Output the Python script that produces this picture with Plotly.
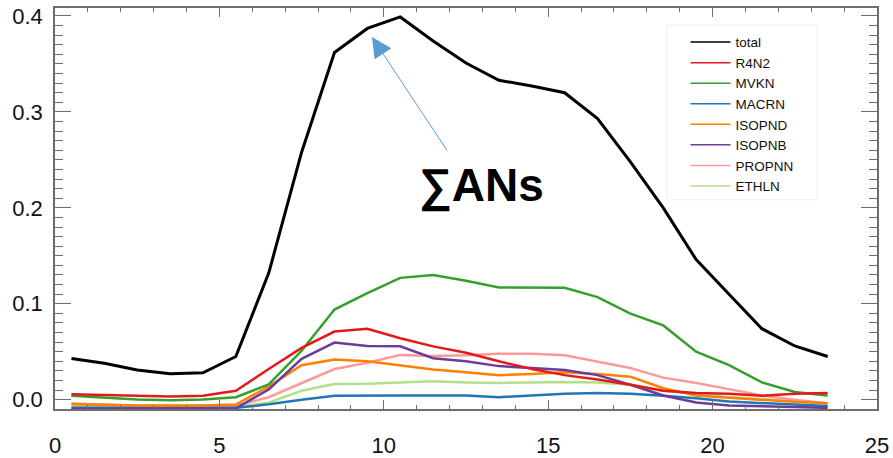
import plotly.graph_objects as go

hours = [0.5, 1.5, 2.5, 3.5, 4.5, 5.5, 6.5, 7.5, 8.5, 9.5, 10.5, 11.5,
         12.5, 13.5, 14.5, 15.5, 16.5, 17.5, 18.5, 19.5, 20.5, 21.5, 22.5, 23.5]

total = [0.043, 0.038, 0.031, 0.027, 0.028, 0.045, 0.132, 0.258, 0.362, 0.387, 0.399, 0.374,
         0.351, 0.333, 0.327, 0.320, 0.293, 0.248, 0.200, 0.146, 0.110, 0.074, 0.056, 0.045]
r4n2 = [0.0058, 0.0050, 0.0038, 0.0033, 0.0040, 0.0093, 0.032, 0.054, 0.071, 0.074, 0.064, 0.0556,
        0.049, 0.040, 0.032, 0.0256, 0.021, 0.0156, 0.0093, 0.007, 0.0063, 0.004, 0.0063, 0.007]
mvkn = [0.004, 0.002, 0.0003, -0.0007, 0.0003, 0.0026, 0.016, 0.051, 0.094, 0.111, 0.127, 0.130,
        0.124, 0.117, 0.117, 0.1166, 0.107, 0.0897, 0.0774, 0.050, 0.036, 0.018, 0.008, 0.0044]
macrn = [-0.0085, -0.0085, -0.0088, -0.0088, -0.0088, -0.0085, -0.0048, 0.0, 0.004, 0.0044, 0.0044, 0.0044,
         0.0044, 0.0026, 0.0044, 0.0063, 0.007, 0.0063, 0.004, 0.0015, -0.0019, -0.0037, -0.0056, -0.0067]
isopnd = [-0.0045, -0.0055, -0.006, -0.006, -0.006, -0.005, 0.0137, 0.036, 0.042, 0.040, 0.036, 0.0315,
          0.0285, 0.0256, 0.0267, 0.0285, 0.0267, 0.024, 0.0119, 0.0044, 0.0019, -0.0004, -0.0022, -0.0037]
isopnb = [-0.0095, -0.0095, -0.0095, -0.0095, -0.0095, -0.009, 0.0107, 0.0426, 0.0596, 0.056, 0.0556, 0.0433,
          0.040, 0.035, 0.033, 0.031, 0.0256, 0.0156, 0.0044, -0.003, -0.006, -0.007, -0.0078, -0.0085]
propnn = [-0.004, -0.0055, -0.0063, -0.0063, -0.0063, -0.0063, 0.0026, 0.0174, 0.032, 0.0385, 0.0467, 0.0456,
          0.0463, 0.0478, 0.0478, 0.0463, 0.0396, 0.033, 0.023, 0.0174, 0.011, 0.0044, 0.0, -0.004]
ethln = [-0.0063, -0.0074, -0.0074, -0.0074, -0.0074, -0.0074, -0.003, 0.0093, 0.0163, 0.0167, 0.018, 0.0193,
         0.018, 0.0174, 0.018, 0.0185, 0.018, 0.0156, 0.0093, 0.0056, 0.0026, 0.0008, -0.0019, -0.0037]

names = ["total", "R4N2", "MVKN", "MACRN", "ISOPND", "ISOPNB", "PROPNN", "ETHLN"]
series = [total, r4n2, mvkn, macrn, isopnd, isopnb, propnn, ethln]
colors = ["#000000", "#e31a1c", "#33a02c", "#1f78b4", "#ff7f00", "#6a3d9a", "#fb9a99", "#b2df8a"]
widths = [3, 2.5, 2.5, 2.5, 2.5, 2.5, 2.5, 2.5]

x_ticks = [0, 5, 10, 15, 20, 25]
y_ticks = [0.0, 0.1, 0.2, 0.3, 0.4]

fig = go.Figure()
draw_order = [7, 6, 3, 4, 5, 2, 1, 0]
for i in draw_order:
    fig.add_trace(go.Scatter(x=hours, y=series[i], mode="lines", name=names[i],
                             line=dict(color=colors[i], width=widths[i]),
                             showlegend=False))
for i in range(len(names)):
    fig.add_trace(go.Scatter(x=[None], y=[None], mode="lines", name=names[i],
                             line=dict(color=colors[i], width=1.5), showlegend=True))

axis_color = "#6e6e6e"
tick_font = dict(family="Liberation Sans, Arial, Helvetica, sans-serif", size=22, color="#111")

fig.update_layout(
    width=893, height=458,
    margin=dict(l=55, r=16, t=8, b=49),
    paper_bgcolor="white", plot_bgcolor="white",
    showlegend=True,
    legend=dict(x=0.767, y=0.953, xanchor="left", yanchor="top",
                bgcolor="rgba(0,0,0,0)", borderwidth=0,
                font=dict(family="Liberation Sans, Arial, sans-serif", size=13.5, color="#111"),
                itemwidth=40, tracegroupgap=0),
    shapes=[dict(type="rect", xref="paper", yref="paper",
                 x0=(667 - 55) / 822, x1=(817 - 55) / 822,
                 y0=(409.3 - 200) / 401.3, y1=(409.3 - 25) / 401.3,
                 line=dict(color="#eeeeee", width=1), fillcolor="rgba(255,255,255,0)", layer="below")],
    xaxis=dict(range=[0, 25], tickvals=x_ticks, ticktext=[str(v) for v in x_ticks],
               showgrid=False, zeroline=False, automargin=False,
               showline=True, linecolor=axis_color, linewidth=1.5, mirror="ticks",
               ticks="inside", ticklen=9, tickwidth=1, tickcolor=axis_color,
               minor=dict(dtick=1, tick0=0, ticks="inside", ticklen=4, tickcolor=axis_color, showgrid=False),
               tickfont=tick_font, ticklabelstandoff=16),
    yaxis=dict(range=[-0.0097, 0.4083], tickvals=y_ticks, ticktext=["%.1f" % v for v in y_ticks],
               showgrid=False, zeroline=False, automargin=False,
               showline=True, linecolor=axis_color, linewidth=1.5, mirror="ticks",
               ticks="inside", ticklen=16, tickwidth=1, tickcolor=axis_color,
               minor=dict(dtick=0.01, tick0=0, ticks="inside", ticklen=8, tickcolor=axis_color, showgrid=False),
               tickfont=tick_font, ticklabelstandoff=6),
    annotations=[
        dict(x=9.64, y=0.378, xref="x", yref="y", ax=11.96, ay=0.258, axref="x", ayref="y",
             text="", showarrow=True, arrowhead=2, arrowsize=4, arrowwidth=1, arrowcolor="#5b9bd5"),
        dict(x=12.96, y=0.223, xref="x", yref="y", text="<b>∑ANs</b>", showarrow=False,
             font=dict(family="Liberation Sans, Arial, sans-serif", size=46, color="black")),
    ],
)

fig.write_html("out.html", config={"displayModeBar": False},
               post_script="document.body.style.margin='0px';document.body.style.overflow='hidden';")
